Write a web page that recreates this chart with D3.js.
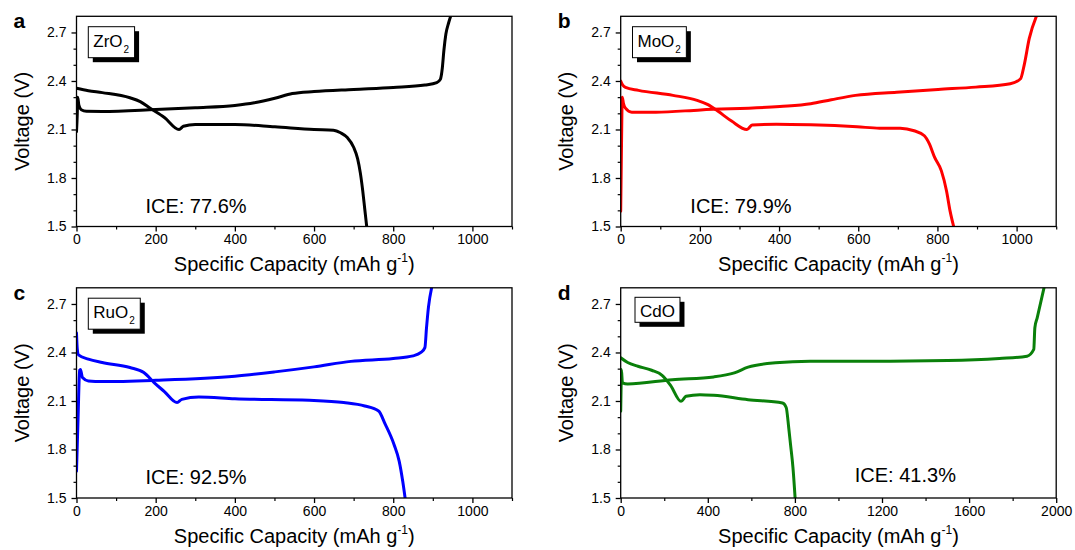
<!DOCTYPE html>
<html>
<head>
<meta charset="utf-8">
<script src="https://cdn.jsdelivr.net/npm/d3@7"></script>
<style>
  html, body { margin: 0; padding: 0; background: #fff; }
  svg { display: block; }
  text { font-family: "Liberation Sans", Arial, Helvetica, sans-serif; fill: #000; }
</style>
</head>
<body>
<svg id="chart" width="1075" height="550"></svg>
<script>
// ---- Panel descriptors ----
const panelLetters = ["a", "b", "c", "d"];
const materialBase = ["ZrO", "MoO", "RuO", "CdO"];
const materialSub = ["2", "2", "2", ""];
const iceLabels = ["ICE: 77.6%", "ICE: 79.9%", "ICE: 92.5%", "ICE: 41.3%"];
const lineColors = ["#000000", "#ff0000", "#0000ff", "#0a800a"];
const xMaxValues = [1100, 1100, 1100, 2000];
const xMajorStep = [200, 200, 200, 400];
const xMinorStep = [100, 100, 100, 200];
const yDomain = [1.5, 2.8];
const yMajorTicks = [1.5, 1.8, 2.1, 2.4, 2.7];
const yMinorTicks = [1.6, 1.7, 1.9, 2.0, 2.2, 2.3, 2.5, 2.6];

// ---- Galvanostatic profiles: [capacity (mAh g-1), voltage (V)] ----
const zro2Discharge = [[0,2.355],[30,2.34],[65,2.328],[135,2.296],[161,2.272],[187,2.23],[222,2.174],[259,2.10],[270,2.12],[300,2.131],[400,2.131],[501,2.117],[600,2.10],[649,2.096],[667,2.08],[684,2.05],[700,1.99],[710,1.92],[717,1.83],[723,1.72],[728,1.61],[733,1.5]];
const zro2Charge = [[0,2.086],[2,2.2],[3,2.30],[6,2.25],[12,2.222],[25,2.213],[65,2.212],[200,2.224],[300,2.235],[400,2.249],[449,2.265],[501,2.293],[545,2.322],[600,2.335],[700,2.348],[800,2.36],[880,2.375],[910,2.39],[919,2.41],[924,2.48],[928,2.59],[933,2.69],[940,2.76],[945,2.80]];

const moo2Discharge = [[0,2.40],[5,2.375],[12,2.36],[45,2.342],[132,2.311],[193,2.28],[219,2.255],[245,2.214],[280,2.152],[319,2.10],[332,2.127],[393,2.133],[480,2.129],[597,2.117],[654,2.108],[706,2.108],[741,2.092],[767,2.061],[780,2.009],[793,1.927],[810,1.844],[823,1.72],[832,1.595],[841,1.5]];
const moo2Charge = [[0,1.595],[2,2.0],[4,2.30],[7,2.26],[12,2.232],[28,2.207],[89,2.207],[202,2.221],[402,2.242],[480,2.259],[532,2.284],[593,2.311],[697,2.331],[802,2.348],[897,2.362],[984,2.383],[1010,2.414],[1019,2.497],[1032,2.663],[1050,2.80]];

const ruo2Discharge = [[0,2.52],[2,2.42],[5,2.385],[30,2.359],[65,2.338],[135,2.307],[170,2.276],[196,2.214],[222,2.158],[254,2.09],[266,2.11],[309,2.125],[400,2.114],[588,2.104],[675,2.09],[728,2.069],[763,2.038],[780,1.955],[802,1.831],[815,1.728],[824,1.603],[830,1.5]];
const ruo2Charge = [[0,1.666],[4,2.0],[8,2.29],[10,2.295],[15,2.245],[30,2.224],[65,2.22],[200,2.228],[400,2.253],[501,2.28],[600,2.311],[693,2.345],[800,2.363],[850,2.379],[870,2.40],[880,2.43],[884,2.55],[889,2.68],[897,2.80]];

const cdoDischarge = [[0,2.367],[32,2.338],[79,2.315],[142,2.29],[190,2.259],[229,2.197],[277,2.098],[300,2.129],[364,2.139],[427,2.135],[585,2.108],[743,2.088],[760,2.06],[772,1.93],[780,1.83],[791,1.69],[801,1.5]];
const cdoCharge = [[0,2.036],[2,2.2],[3,2.294],[8,2.212],[32,2.205],[237,2.232],[427,2.249],[522,2.274],[585,2.309],[711,2.336],[870,2.346],[1186,2.346],[1502,2.35],[1739,2.363],[1866,2.377],[1897,2.419],[1902,2.553],[1913,2.615],[1944,2.80]];

const panelCurves = [
  [zro2Discharge, zro2Charge],
  [moo2Discharge, moo2Charge],
  [ruo2Discharge, ruo2Charge],
  [cdoDischarge, cdoCharge]
];

// ---- Layout ----
const svg = d3.select("#chart");
svg.append("rect").attr("width", 1075).attr("height", 550).attr("fill", "#fff");

const plotW = 435.5, plotH = 210.2;
const origins = [[76.5, 16.3], [620.7, 16.3], [76.5, 287.8], [620.7, 287.8]];
const boxOffsets = [[11.8, 10.4], [11.8, 10.4], [11.8, 10.4], [14.3, 9.5]];

panelLetters.forEach((letter, i) => {
  const [ox, oy] = origins[i];
  const g = svg.append("g").attr("transform", `translate(${ox},${oy})`);

  const x = d3.scaleLinear().domain([0, xMaxValues[i]]).range([0, plotW]);
  const y = d3.scaleLinear().domain(yDomain).range([plotH, 0]);

  const clipId = "clip-" + letter;
  g.append("clipPath").attr("id", clipId)
    .append("rect").attr("width", plotW).attr("height", plotH);

  // curves
  const line = d3.line()
    .x(d => x(d[0])).y(d => y(d[1]))
    .curve(d3.curveMonotoneX);
  const curveG = g.append("g").attr("clip-path", `url(#${clipId})`);
  panelCurves[i].forEach(series => {
    curveG.append("path")
      .datum(series)
      .attr("d", line)
      .attr("fill", "none")
      .attr("stroke", lineColors[i])
      .attr("stroke-width", 3)
      .attr("stroke-linejoin", "round")
      .attr("stroke-linecap", "round");
  });

  // frame
  g.append("rect").attr("width", plotW).attr("height", plotH)
    .attr("fill", "none").attr("stroke", "#000").attr("stroke-width", 1.3);

  // x axis
  const xMajor = d3.range(0, xMaxValues[i] + 1, xMajorStep[i]);
  const xMinor = d3.range(0, xMaxValues[i] + 1, xMinorStep[i]).filter(v => v % xMajorStep[i] !== 0);
  const xAxis = g.append("g").attr("transform", `translate(0,${plotH})`)
    .call(d3.axisBottom(x).tickValues(xMajor).tickSize(5).tickSizeOuter(0).tickPadding(3).tickFormat(d3.format("d")));
  xAxis.select(".domain").remove();
  xAxis.selectAll("line").attr("stroke-width", 1.3);
  xAxis.selectAll("text").attr("font-size", 14).attr("font-family", null);
  const xMinAxis = g.append("g").attr("transform", `translate(0,${plotH})`)
    .call(d3.axisBottom(x).tickValues(xMinor).tickSize(3).tickFormat(""));
  xMinAxis.select(".domain").remove();
  xMinAxis.selectAll("line").attr("stroke-width", 1.2);

  // y axis
  const yAxis = g.append("g")
    .call(d3.axisLeft(y).tickValues(yMajorTicks).tickSize(5).tickSizeOuter(0).tickPadding(5).tickFormat(d3.format(".1f")));
  yAxis.select(".domain").remove();
  yAxis.selectAll("line").attr("stroke-width", 1.3);
  yAxis.selectAll("text").attr("font-size", 14).attr("font-family", null);
  const yMinAxis = g.append("g")
    .call(d3.axisLeft(y).tickValues(yMinorTicks).tickSize(3).tickFormat(""));
  yMinAxis.select(".domain").remove();
  yMinAxis.selectAll("line").attr("stroke-width", 1.2);

  // axis titles
  const xt = g.append("text")
    .attr("x", plotW / 2).attr("y", plotH + 45)
    .attr("text-anchor", "middle").attr("font-size", 20);
  xt.append("tspan").text("Specific Capacity (mAh g");
  xt.append("tspan").attr("font-size", 12).attr("dy", -9).text("-1");
  xt.append("tspan").attr("dy", 9).text(")");

  g.append("text")
    .attr("transform", `translate(${-48},${plotH / 2}) rotate(-90)`)
    .attr("text-anchor", "middle").attr("font-size", 20)
    .text("Voltage (V)");

  // panel letter
  g.append("text")
    .attr("x", -63).attr("y", 12)
    .attr("font-size", 21).attr("font-weight", "bold")
    .text(letter);

  // material tag with drop shadow
  const [bx, by] = boxOffsets[i];
  const tag = g.append("g").attr("transform", `translate(${bx},${by})`);
  const label = tag.append("text").attr("x", 5).attr("y", materialSub[i] ? 20 : 19.4).attr("font-size", 17);
  label.append("tspan").text(materialBase[i]);
  if (materialSub[i]) {
    label.append("tspan").attr("font-size", 10).attr("dy", 6).attr("dx", 1).text(materialSub[i]);
  }
  const bb = label.node().getBBox();
  const boxW = bb.width + 10;
  const boxH = materialSub[i] ? 31 : 25;
  tag.insert("rect", "text").attr("x", 4.5).attr("y", 4.5).attr("width", boxW).attr("height", boxH).attr("fill", "#000");
  tag.insert("rect", "text").attr("x", 0).attr("y", 0).attr("width", boxW).attr("height", boxH)
    .attr("fill", "#fff").attr("stroke", "#000").attr("stroke-width", 1);

  // initial coulombic efficiency
  const iceX = [174, 176, 174, 1075][i];
  g.append("text")
    .attr("x", x(iceX)).attr("y", [196.4, 196.4, 196.1, 194][i])
    .attr("font-size", 20)
    .text(iceLabels[i]);
});
</script>
</body>
</html>
